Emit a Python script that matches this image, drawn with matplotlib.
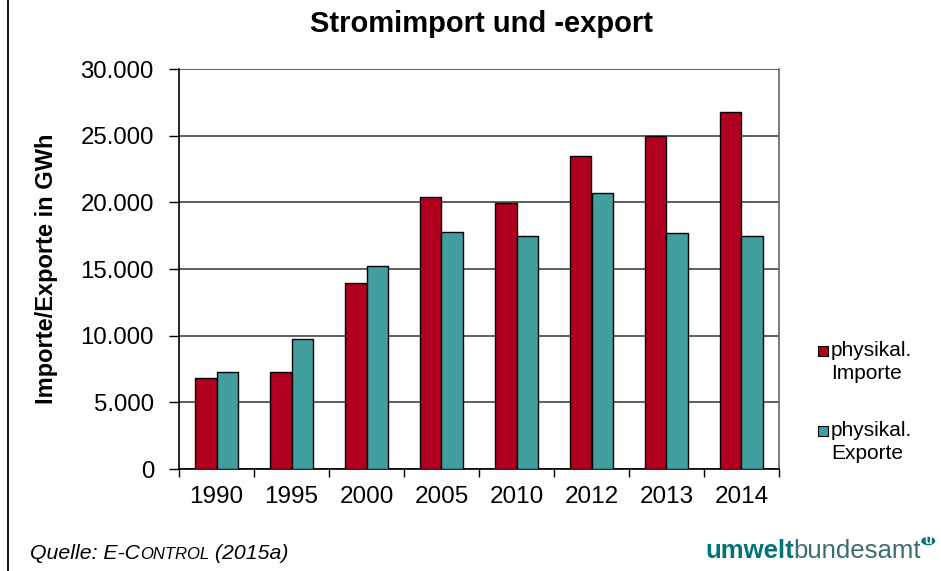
import matplotlib
matplotlib.use("Agg")
import matplotlib.pyplot as plt
import numpy as np
from matplotlib.patches import Rectangle, Circle
from matplotlib.lines import Line2D
from matplotlib.ticker import FuncFormatter, FixedLocator

plt.rcParams['font.family'] = ['Liberation Sans', 'DejaVu Sans']

years = ["1990", "1995", "2000", "2005", "2010", "2012", "2013", "2014"]
imports = [6850, 7275, 13925, 20400, 19925, 23450, 25000, 26750]
exports = [7275, 9750, 15200, 17750, 17475, 20675, 17675, 17450]
labels = ["physikal.\nImporte", "physikal.\nExporte"]
colors = ["#B1001F", "#41A09F"]

W, H = 941, 571
fig = plt.figure(figsize=(W / 100, H / 100), dpi=100)
ax = fig.add_axes([179 / W, (H - 469) / H, 600 / W, 400 / H])

x = np.arange(len(years))
bw = 0.287
ax.bar(x - bw / 2, imports, bw, color=colors[0], edgecolor="black", linewidth=1, zorder=3)
ax.bar(x + bw / 2, exports, bw, color=colors[1], edgecolor="black", linewidth=1, zorder=3)

ax.set_xlim(-0.5, len(years) - 0.5)
ax.set_ylim(0, 30000)
ax.set_yticks(np.arange(0, 30001, 5000))
ax.yaxis.set_major_formatter(FuncFormatter(lambda v, p: f"{int(v):,}".replace(",", ".")))
ax.yaxis.grid(True, color="#333333", linewidth=1.1, zorder=1)
ax.set_axisbelow(True)

ax.xaxis.set_major_locator(FixedLocator(np.arange(-0.5, len(years), 1.0)))
ax.xaxis.set_major_formatter(FuncFormatter(lambda v, p: ""))
ax.xaxis.set_minor_locator(FixedLocator(x))
ax.set_xticklabels(years, minor=True)
ax.tick_params(axis="x", which="major", length=6, width=1, color="black", direction="out")
ax.tick_params(axis="x", which="minor", length=0, pad=12, labelsize=17.5)
ax.tick_params(axis="y", length=7, width=1, direction="out", pad=11, labelsize=17.3)

ax.spines["top"].set_visible(False)
ax.spines["right"].set_color("#666666")
ax.spines["right"].set_linewidth(1.2)
ax.spines["left"].set_linewidth(1.2)
ax.spines["bottom"].set_linewidth(1.2)

ax.set_ylabel("Importe/Exporte in GWh", fontsize=17, fontweight="bold", labelpad=16)

fig.text(481 / W, 1 - 24 / H, "Stromimport und -export", ha="center", va="center",
         fontsize=21, fontweight="bold")

# legend
for i, (lab, col) in enumerate(zip(labels, colors)):
    yt = 341 + i * 80
    fig.add_artist(Rectangle((818 / W, 1 - (yt + 15) / H), 10 / W, 10 / H,
                             transform=fig.transFigure, facecolor=col,
                             edgecolor="black", linewidth=0.8))
    fig.text(831 / W, 1 - yt / H, lab, ha="left", va="top", fontsize=15, linespacing=1.25)

# left border line
fig.add_artist(Line2D([8 / W, 8 / W], [0, 1], transform=fig.transFigure, color="black", linewidth=1.3))

# source text with small caps
fig.canvas.draw()
r = fig.canvas.get_renderer()
parts = [("Quelle: E-C", 15.3), ("ONTROL", 12), (" (2015a)", 15.3)]
xp = 30
for t, fs in parts:
    tx = fig.text(xp / W, 1 - 559 / H, t, ha="left", va="baseline", fontsize=fs, style="italic")
    bb = tx.get_window_extent(r)
    xp += bb.width

# logo
teal = "#00747A"
t1 = fig.text(705 / W, 1 - 558 / H, "umwelt", ha="left", va="baseline", fontsize=18.5,
              fontweight="bold", color=teal)
bb = t1.get_window_extent(r)
t2 = fig.text((705 + bb.width) / W, 1 - 558 / H, "bundesamt", ha="left", va="baseline",
              fontsize=18.5, color="#3A6E72")
bb2 = t2.get_window_extent(r)
cx = 705 + bb.width + bb2.width + 7
fig.add_artist(Circle((cx / W, 1 - 541 / H), 7 / W, transform=fig.transFigure,
                      facecolor=teal, edgecolor="none"))
fig.text(cx / W, 1 - 541.5 / H, "u", ha="center", va="center", fontsize=9, color="white",
         fontweight="bold")

fig.savefig("out.png", dpi=100)
